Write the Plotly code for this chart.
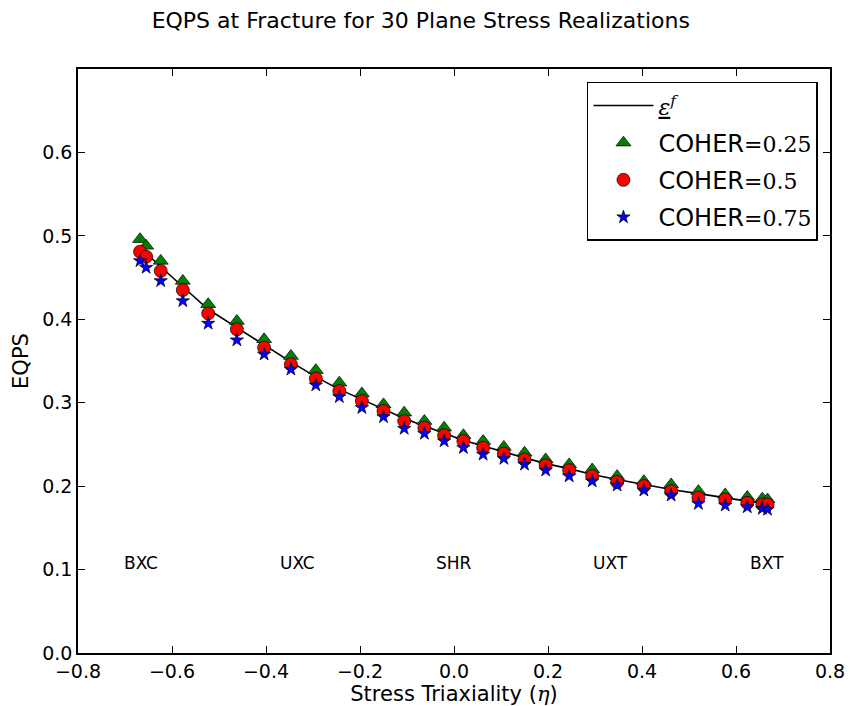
import plotly.graph_objects as go

# ---- data ----
eta = [-0.668, -0.655, -0.624, -0.577, -0.523, -0.462, -0.404, -0.347, -0.294, -0.244,
       -0.196, -0.150, -0.106, -0.063, -0.021, 0.020, 0.062, 0.106, 0.150, 0.195,
       0.245, 0.294, 0.347, 0.404, 0.462, 0.520, 0.577, 0.624, 0.656, 0.667]

eps_f = [0.486, 0.479, 0.463, 0.439, 0.412, 0.390, 0.369, 0.349, 0.331, 0.316,
         0.304, 0.292, 0.281, 0.272, 0.263, 0.255, 0.248, 0.241, 0.234, 0.227,
         0.221, 0.214, 0.208, 0.202, 0.196, 0.191, 0.186, 0.182, 0.180, 0.179]

coher_025 = [0.496, 0.488, 0.470, 0.446, 0.418, 0.398, 0.376, 0.356, 0.339, 0.324,
             0.311, 0.298, 0.288, 0.278, 0.270, 0.261, 0.254, 0.247, 0.240, 0.232,
             0.226, 0.220, 0.212, 0.206, 0.202, 0.194, 0.190, 0.187, 0.185, 0.184]

coher_05 = [0.481, 0.475, 0.458, 0.435, 0.407, 0.388, 0.366, 0.346, 0.329, 0.314,
            0.302, 0.290, 0.278, 0.270, 0.261, 0.254, 0.246, 0.239, 0.232, 0.225,
            0.219, 0.212, 0.205, 0.200, 0.194, 0.186, 0.184, 0.180, 0.178, 0.178]

coher_075 = [0.470, 0.462, 0.446, 0.422, 0.395, 0.375, 0.358, 0.340, 0.321, 0.307,
             0.294, 0.283, 0.269, 0.263, 0.254, 0.246, 0.238, 0.233, 0.226, 0.219,
             0.212, 0.206, 0.201, 0.195, 0.189, 0.179, 0.177, 0.175, 0.173, 0.172]

region_labels = ["BXC", "UXC", "SHR", "UXT", "BXT"]
region_eta = [-2/3, -1/3, 0.0, 1/3, 2/3]
region_y = 0.1

x_ticks = [-0.8, -0.6, -0.4, -0.2, 0.0, 0.2, 0.4, 0.6, 0.8]
y_ticks = [0.0, 0.1, 0.2, 0.3, 0.4, 0.5, 0.6]

SANS = "DejaVu Sans"
SERIF = "DejaVu Serif"
MATH = f"font-family:{SERIF};font-size:22px"

fig = go.Figure()

fig.add_trace(go.Scatter(
    x=eta, y=eps_f, mode="lines", line=dict(color="black", width=1.6),
    name=f"<span style='{MATH}'><i><u>ε</u></i><sup><i>f</i></sup></span>",
    legendgroup="a"))

marker_line = dict(color="black", width=0.7)
fig.add_trace(go.Scatter(
    x=eta, y=coher_025, mode="markers",
    marker=dict(symbol="triangle-up", size=13, color="#008000", line=marker_line),
    name=f"COHER<span style='{MATH}'>=0.25</span>", legendgroup="b"))
fig.add_trace(go.Scatter(
    x=eta, y=coher_05, mode="markers",
    marker=dict(symbol="circle", size=13, color="#ff0000", line=marker_line),
    name=f"COHER<span style='{MATH}'>=0.5</span>", legendgroup="c"))
fig.add_trace(go.Scatter(
    x=eta, y=coher_075, mode="markers",
    marker=dict(symbol="star", size=10, color="#0000ff", line=marker_line),
    name=f"COHER<span style='{MATH}'>=0.75</span>", legendgroup="d"))

for lab, ex in zip(region_labels, region_eta):
    fig.add_annotation(x=ex, y=region_y, text=lab, showarrow=False,
                       xanchor="center", yanchor="middle", yshift=7,
                       font=dict(family=SANS, size=17, color="black"))

axis_common = dict(showline=True, linecolor="black", linewidth=1.5, mirror="ticks",
                   ticks="inside", ticklen=7, tickwidth=1, tickcolor="black",
                   showgrid=False, zeroline=False, automargin=False,
                   tickfont=dict(family=SANS, size=19, color="black"))

fig.update_xaxes(range=[-0.8, 0.8], tickvals=x_ticks, tickformat=".1f",
                 title=dict(text=f"Stress Triaxiality (<span style='font-family:{SERIF}'><i>η</i></span>)",
                            font=dict(family=SANS, size=21, color="black"), standoff=2),
                 **axis_common)
fig.update_yaxes(range=[0, 0.7], tickvals=y_ticks, tickformat=".1f",
                 title=dict(text="EQPS", font=dict(family=SANS, size=21, color="black"), standoff=8),
                 **axis_common)

fig.update_layout(
    width=850, height=706,
    margin=dict(l=78, r=20, t=69, b=53),
    paper_bgcolor="white", plot_bgcolor="white",
    title=dict(text="EQPS at Fracture for 30 Plane Stress Realizations",
               x=0.495, xanchor="center", y=1 - 20 / 706, yanchor="middle", yref="container",
               font=dict(family=SANS, size=22, color="black")),
    legend=dict(x=0.984, y=0.978, xanchor="right", yanchor="top",
                bordercolor="black", borderwidth=1.5, bgcolor="white",
                font=dict(family=SANS, size=24, color="black"),
                tracegroupgap=3, itemwidth=60),
    showlegend=True,
)

fig.write_html("out.html")
